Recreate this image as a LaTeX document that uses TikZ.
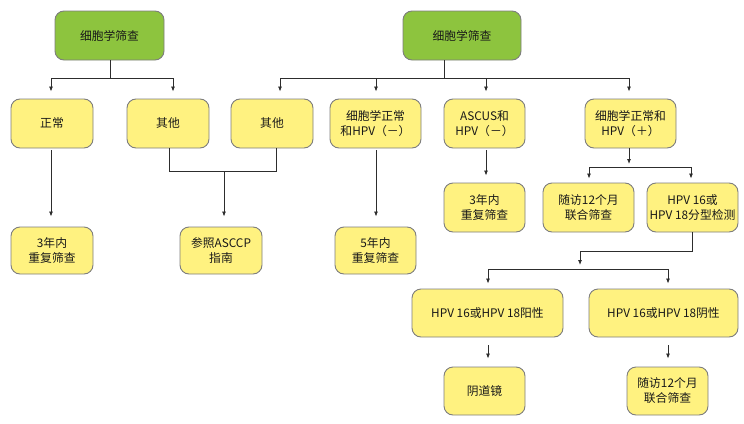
\documentclass[tikz,border=0pt]{standalone}
\usepackage{fontspec}
\newfontfamily\cjk{Noto Sans CJK SC}
\usetikzlibrary{arrows.meta}
\definecolor{gfill}{RGB}{141,196,62}
\definecolor{yfill}{RGB}{255,242,128}
\definecolor{bline}{RGB}{125,125,125}
\definecolor{cline}{RGB}{45,45,45}
\definecolor{txt}{RGB}{25,25,25}
\begin{document}
\begin{tikzpicture}[x=1pt,y=-1pt,
  base/.style={draw=bline, line width=0.9pt, rounded corners=9pt, align=center, inner sep=0pt,
    text=txt, font=\cjk\fontsize{11.8pt}{15pt}\selectfont, minimum height=49pt},
  gbox/.style={base, fill=gfill},
  ybox/.style={base, fill=yfill},
  ln/.style={draw=cline, line width=0.8pt},
  arr/.style={ln, -{Latex[length=5pt,width=4pt]}}]
\useasboundingbox (0,0) rectangle (744,423);
% nodes
\node[gbox, minimum width=109pt] (g1) at (109.5,35.5) {细胞学筛查};
\node[gbox, minimum width=118pt] (g2) at (462,35.5) {细胞学筛查};
\node[ybox, minimum width=82pt] (n1) at (52,123.5) {正常};
\node[ybox, minimum width=82pt] (n2) at (168,123.5) {其他};
\node[ybox, minimum width=82pt] (n3) at (272,123.5) {其他};
\node[ybox, minimum width=91pt] (n4) at (375.5,123.5) {细胞学正常\\和HPV（－）};
\node[ybox, minimum width=81pt] (n5) at (484.5,123.5) {ASCUS和\\HPV（－）};
\node[ybox, minimum width=91pt] (n6) at (630.5,123.5) {细胞学正常和\\HPV（＋）};
\node[ybox, minimum width=82pt, minimum height=47pt] (r1) at (52,250.5) {3年内\\重复筛查};
\node[ybox, minimum width=82pt, minimum height=47pt] (r2) at (221,250.5) {参照ASCCP\\指南};
\node[ybox, minimum width=81pt, minimum height=47pt] (r3) at (375.5,250.5) {5年内\\重复筛查};
\node[ybox, minimum width=81pt] (a1) at (484.5,207.5) {3年内\\重复筛查};
\node[ybox, minimum width=91pt] (a2) at (588.5,207.5) {随访12个月\\联合筛查};
\node[ybox, minimum width=91pt] (a3) at (692.5,207.5) {HPV 16或\\HPV 18分型检测};
\node[ybox, minimum width=151pt, minimum height=48pt] (b1) at (487.5,313) {HPV 16或HPV 18阳性};
\node[ybox, minimum width=149pt, minimum height=48pt] (b2) at (663.5,313) {HPV 16或HPV 18阴性};
\node[ybox, minimum width=81pt, minimum height=48pt] (c1) at (484.5,391) {阴道镜};
\node[ybox, minimum width=81pt, minimum height=48pt] (c2) at (667.5,391) {随访12个月\\联合筛查};
% left tree
\coordinate (j1) at (110,78);
\coordinate (l1) at (51,78);
\coordinate (l2) at (173,78);
\draw[ln] (g1.south -| j1) -- (j1);
\draw[ln] (l1) -- (l2);
\draw[arr, shorten >=7pt] (l1) -- (l1 |- n1.north);
\draw[arr, shorten >=7pt] (l2) -- (l2 |- n2.north);
% right tree
\coordinate (j2) at (444,78);
\coordinate (rA) at (280,78);
\coordinate (rB) at (376,78);
\coordinate (rC) at (486,78);
\coordinate (rD) at (629,78);
\draw[ln] (g2.south -| j2) -- (j2);
\draw[ln] (rA) -- (rD);
\draw[arr, shorten >=7pt] (rA) -- (rA |- n3.north);
\draw[arr, shorten >=7pt] (rB) -- (rB |- n4.north);
\draw[arr, shorten >=7pt] (rC) -- (rC |- n5.north);
\draw[arr, shorten >=7pt] (rD) -- (rD |- n6.north);
% second level left
\draw[arr, shorten <=2pt, shorten >=10pt] (n1.south -| l1) -- (r1.north -| l1);
\coordinate (m2) at (169,171);
\coordinate (m3) at (276,171);
\coordinate (m) at (224,171);
\draw[ln] (n2.south -| m2) -- (m2) -- (m3) -- (n3.south -| m3);
\draw[arr, shorten >=10pt] (m) -- (m |- r2.north);
\draw[arr, shorten <=2pt, shorten >=10pt] (n4.south -| rB) -- (r3.north -| rB);
\draw[arr, shorten <=2pt, shorten >=7pt] (n5.south -| rC) -- (a1.north -| rC);
% HPV+ branch
\coordinate (k) at (629,167);
\coordinate (k1) at (589,167);
\coordinate (k2) at (691,167);
\draw[arr, shorten >=3pt] (n6.south -| k) -- (k);
\draw[ln] (k1) -- (k2);
\draw[arr, shorten >=4pt] (k1) -- (k1 |- a2.north);
\draw[arr, shorten >=4pt] (k2) -- (k2 |- a3.north);
% genotyping
\coordinate (p1) at (692,251);
\coordinate (p2) at (580,251);
\coordinate (q) at (580,269);
\draw[arr, shorten >=4pt] (a3.south -| p1) -- (p1) -- (p2) -- (q);
\coordinate (q1) at (488,269);
\coordinate (q2) at (668,269);
\draw[ln] (q1) -- (q2);
\draw[arr, shorten >=5pt] (q1) -- (q1 |- b1.north);
\draw[arr, shorten >=5pt] (q2) -- (q2 |- b2.north);
\draw[arr, shorten <=8pt, shorten >=8pt] (b1.south -| q1) -- (c1.north -| q1);
\draw[arr, shorten <=8pt, shorten >=8pt] (b2.south -| q2) -- (c2.north -| q2);
\end{tikzpicture}
\end{document}
